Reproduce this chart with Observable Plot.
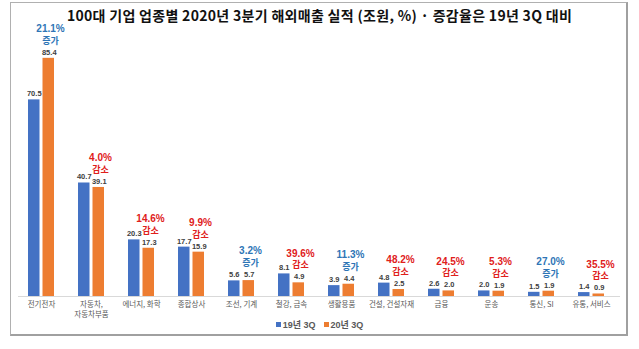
<!DOCTYPE html>
<html><head><meta charset="utf-8">
<script src="https://cdn.jsdelivr.net/npm/d3@7"></script>
<script src="https://cdn.jsdelivr.net/npm/@observablehq/plot@0.6"></script>
<style>
body{margin:0;background:#fff;font-family:"Noto Sans CJK KR","Noto Sans",sans-serif;}
#wrap{position:relative;width:639px;height:349px;overflow:hidden;}
#frame{position:absolute;left:10px;top:2px;width:615px;height:331px;border:1px solid #b0b0b0;border-right:2px solid #a0a0a0;border-bottom:2px solid #a0a0a0;}
#title{position:absolute;left:0;top:6px;width:639px;text-align:center;font-weight:700;font-size:14px;line-height:18px;color:#111;letter-spacing:0.3px;}
#chart{position:absolute;left:0;top:22px;}
#legend{position:absolute;left:0;top:319px;width:639px;text-align:center;font-size:9px;font-weight:700;color:#595959;line-height:12px;font-family:"Liberation Sans","Noto Sans CJK KR",sans-serif;}
#legend span.sw{display:inline-block;width:5px;height:5px;margin-right:2px;vertical-align:1px;}
#legend span.it{margin:0 4px;}
</style></head>
<body>
<div id="wrap">
  <div id="frame"></div>
  <div id="title">100대 기업 업종별 2020년 3분기 해외매출 실적 (조원, %) · 증감율은 19년 3Q 대비</div>
  <div id="chart"></div>
  <div id="legend"></div>
</div>
<script>
const categories = ["전기전자","자동차,\n자동차부품","에너지, 화학","종합상사","조선, 기계","철강, 금속","생활용품","건설, 건설자재","금융","운송","통신, SI","유통, 서비스"];
const series = ["19년 3Q","20년 3Q"];
const sales2019Q3 = [70.5,40.7,20.3,17.7,5.6,8.1,3.9,4.8,2.6,2.0,1.5,1.4];
const sales2020Q3 = [85.4,39.1,17.3,15.9,5.7,4.9,4.4,2.5,2.0,1.9,1.9,0.9];
const changeRate = ["21.1%","4.0%","14.6%","9.9%","3.2%","39.6%","11.3%","48.2%","24.5%","5.3%","27.0%","35.5%"];
const changeDir = ["증가","감소","감소","감소","증가","감소","증가","감소","감소","감소","증가","감소"];
const colors = ["#4472C4","#ED7D31"];

const rows = categories.map((c,i)=>({cat:c, a:sales2019Q3[i], b:sales2020Q3[i], rate:changeRate[i], dir:changeDir[i]}));

const pctColor = d => d.dir==="증가" ? "#2E75B6" : "#E0201B";

const chart = Plot.plot({
  width:639, height:299,
  marginLeft:18, marginRight:26, marginTop:23, marginBottom:25,
  style:{fontFamily:"'Noto Sans CJK KR', sans-serif", background:"transparent"},
  x:{type:"band", domain:categories, paddingInner:0.4892, paddingOuter:0.0884},
  y:{domain:[0,90], axis:null},
  marks:[
    Plot.barY(rows,{x:"cat", y:"a", fill:colors[0], insetRight:14.5}),
    Plot.barY(rows,{x:"cat", y:"b", fill:colors[1], insetLeft:14.5}),
    Plot.ruleY([0],{stroke:"#d9d9d9", strokeWidth:1, insetRight:-7}),
    Plot.text(rows,{x:"cat", y:"a", text:d=>d.a.toFixed(1), dx:-7.25, dy:-6, fontSize:7.5, fill:"#404040", fontFamily:"'Liberation Sans', sans-serif", fontWeight:"bold", style:"letter-spacing:0.8px"}),
    Plot.text(rows,{x:"cat", y:"b", text:d=>d.b.toFixed(1), dx:7.75, dy:-6, fontSize:7.5, fill:"#404040", fontFamily:"'Liberation Sans', sans-serif", fontWeight:"bold", style:"letter-spacing:0.8px"}),
    Plot.text(rows,{x:"cat", y:"b", text:"dir", dx:9, dy:-17.5, fontSize:9, fontWeight:"bold", fill:pctColor, fontFamily:"'Noto Sans CJK KR', sans-serif"}),
    Plot.text(rows,{x:"cat", y:"b", text:"rate", dx:9, dy:-29.5, fontSize:10, fontWeight:"bold", fill:pctColor, fontFamily:"'Liberation Sans', sans-serif"}),
    Plot.axisX({tickSize:0, tickPadding:3, fontSize:7.5, lineHeight:1.4, color:"#595959", label:null, lineAnchor:"top"})
  ]
});
document.getElementById("chart").appendChild(chart);

const lg = document.getElementById("legend");
series.forEach((s,i)=>{
  const it = document.createElement("span"); it.className="it";
  const sw = document.createElement("span"); sw.className="sw"; sw.style.background=colors[i];
  it.appendChild(sw); it.appendChild(document.createTextNode(s));
  lg.appendChild(it);
});
</script>
</body></html>
